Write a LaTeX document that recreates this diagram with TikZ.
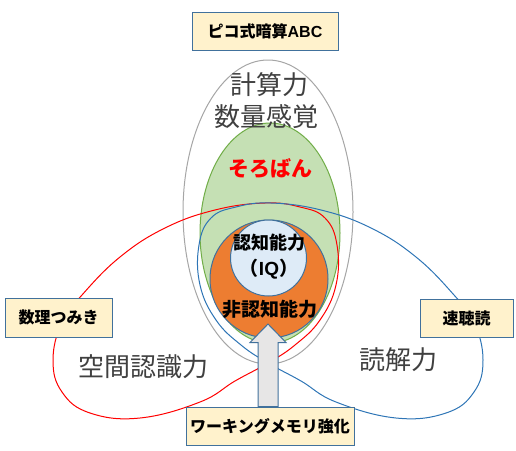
\documentclass[tikz,border=0pt]{standalone}
\usepackage{fontspec}
\setmainfont{Noto Sans CJK JP}
\newfontfamily\latinfont{Liberation Sans}
\usetikzlibrary{calc}

\definecolor{boxfill}{HTML}{FFF2CC}
\definecolor{boxline}{HTML}{41719C}
\definecolor{grayline}{HTML}{A6A6A6}
\definecolor{greenfill}{HTML}{C5E0B4}
\definecolor{greenline}{HTML}{70AD47}
\definecolor{orangefill}{HTML}{ED7D31}
\definecolor{iqfill}{HTML}{DEEBF7}
\definecolor{darktext}{HTML}{404040}
\definecolor{arrowfill}{HTML}{E7E6E6}
\definecolor{redline}{HTML}{FF0000}
\definecolor{blueline}{HTML}{2E75B6}

\tikzset{
  labelbox/.style={draw=boxline, fill=boxfill, line width=1pt, inner sep=0pt,
    font=\fontsize{16}{16}\selectfont\bfseries},
  bigtext/.style={text=darktext, inner sep=0pt, font=\fontsize{26}{26}\selectfont},
  innertext/.style={inner sep=0pt, font=\fontsize{18}{18}\selectfont\bfseries},
}

\begin{document}
\begin{tikzpicture}[x=1pt,y=-1pt]
  \useasboundingbox (0,0) rectangle (516,450);

  % outer sets
  \draw[grayline, line width=1pt, fill=white] (268,212) ellipse [x radius=85pt, y radius=152pt];
  \draw[greenline, line width=1pt, fill=greenfill] (270,233) ellipse [x radius=70pt, y radius=110pt];

  \draw[redline, line width=1pt] plot[smooth cycle, tension=0.7] coordinates {
    (265,203) (300,207) (325,218) (337,245) (336,285) (320,320) (295,345) (268,363)
    (235,381) (200,402) (140,418) (90,413) (62,392) (53,360) (62,322) (82,295)
    (120,257) (165,228) (215,210)};
  \draw[blueline, line width=1pt] plot[smooth cycle, tension=0.7] coordinates {
    (271,203) (236,207) (211,218) (199,245) (200,285) (216,320) (241,345) (268,363)
    (301,381) (336,402) (396,418) (446,413) (474,392) (483,360) (474,322) (454,295)
    (416,257) (371,228) (321,210)};

  % core
  \draw[boxline, line width=1pt, fill=orangefill] (269,279) circle [radius=59pt];
  \draw[boxline, line width=1pt, fill=iqfill] (268.5,258) circle [radius=38pt];

  \node[bigtext] (Keisan) at (269,85) {計算力};
  \node[bigtext] (Suryo) at (266,117) {数量感覚};
  \node[text=redline, inner sep=0pt, font=\fontsize{21}{21}\selectfont\bfseries] (Soroban) at (270,168) {そろばん};
  \node[innertext] (Ninchi) at (269,243) {認知能力};
  \node[innertext, font=\fontsize{19}{19}\selectfont\bfseries] (IQ) at (269,269) {（{\latinfont IQ}）};
  \node[innertext, font=\fontsize{19}{19}\selectfont\bfseries] (HiNinchi) at (270,309) {非認知能力};
  \node[bigtext] (Kukan) at (143,367) {空間認識力};
  \node[bigtext] (Dokkai) at (398,360) {読解力};

  % boxes
  \node[labelbox, minimum width=146pt, minimum height=38pt] (PicoABC) at (265,31) {ピコ式暗算{\latinfont ABC}};
  \node[labelbox, minimum width=107pt, minimum height=39pt] (Tsumiki) at (58.5,317.5) {数理つみき};
  \node[labelbox, minimum width=93pt, minimum height=38pt] (Sokuchodoku) at (466.5,318) {速聴読};
  \node[labelbox, minimum width=168pt, minimum height=38pt] (WorkMem) at (270,426) {ワーキングメモリ強化};

  \coordinate (ArrowTip) at (268,324);
  \draw[boxline, line width=1pt, fill=arrowfill]
    ($(WorkMem.north)+(-12,0)$) -- ++(0,-64) -- ++(-8,0) -- (ArrowTip)
    -- ($(WorkMem.north)+(16,-64)$) -- ++(-8,0) -- ($(WorkMem.north)+(8,0)$) -- cycle;
\end{tikzpicture}
\end{document}
